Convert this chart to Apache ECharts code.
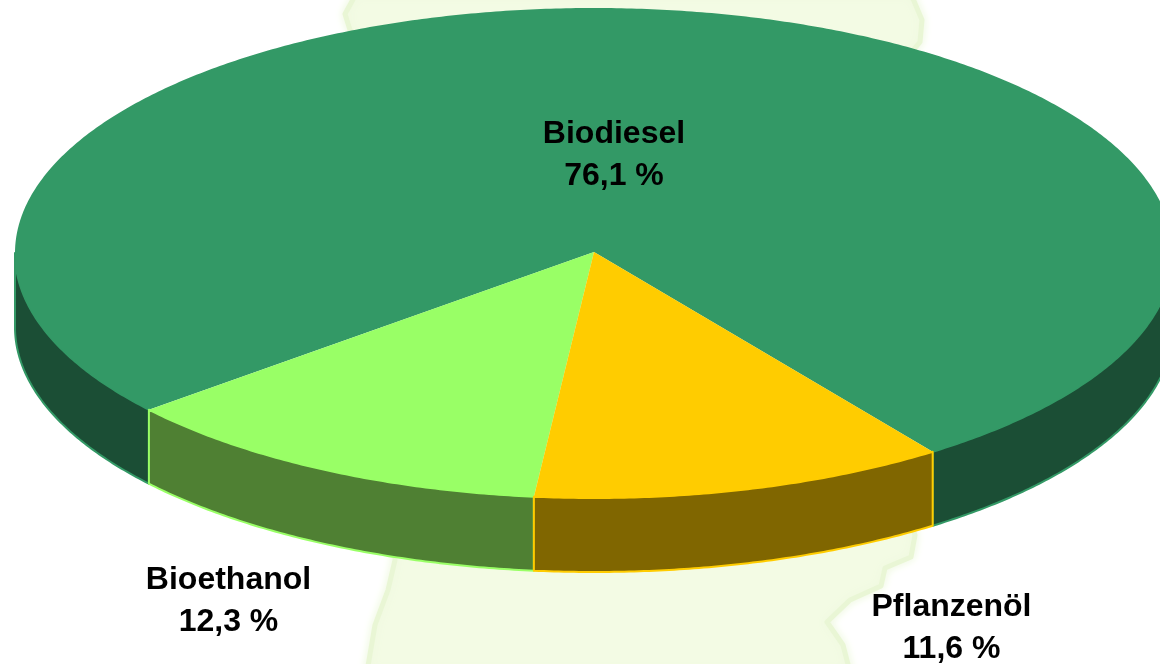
<!DOCTYPE html>
<html>
<head>
<meta charset="utf-8">
<style>html,body{margin:0;padding:0;background:#fff}#c{width:1160px;height:664px}</style>
<script src="https://cdn.jsdelivr.net/npm/echarts@6/dist/echarts.min.js"></script>
</head>
<body>
<div id="c"></div>
<script>
// Data
const categories = ['Biodiesel', 'Bioethanol', 'Pflanzenöl'];
const shares = [76.1, 12.3, 11.6];
const shareLabels = ['76,1 %', '12,3 %', '11,6 %'];

// Styles and layout
const topColors = ['#339966', '#99FF66', '#FFCC00'];
const wallColors = ['#1B4E35', '#4F8033', '#806600'];
const labelCenters = [[614, 155], [228.5, 601], [951.5, 628]];
const pie = { cx: 594, cy: 253, rx: 579, ry: 245, depth: 74, startDeg: 54.2 };
const mapOutline = [[356,-6],[345,14],[350,30],[385,70],[395,560],[388,590],[375,625],[367,672],
  [850,672],[843,645],[827,622],[850,600],[881,586],[885,568],[911,557],[915,535],[905,510],
  [905,60],[920,42],[922,20],[911,-6]];

const total = shares.reduce((a, b) => a + b, 0);
const rad = d => d * Math.PI / 180;
const pt = (t, dy) => [pie.cx + pie.rx * Math.cos(rad(t)), pie.cy + pie.ry * Math.sin(rad(t)) + (dy || 0)];
function arc(t1, t2, dy) {
  const n = Math.max(2, Math.ceil(Math.abs(t2 - t1) * 2));
  const out = [];
  for (let i = 0; i <= n; i++) out.push(pt(t1 + (t2 - t1) * i / n, dy));
  return out;
}

function renderSlice(params, api) {
  const i = params.dataIndex;
  let before = 0;
  for (let k = 0; k < i; k++) before += shares[k];
  const t1 = pie.startDeg - before / total * 360;
  const t2 = t1 - api.value(0) / total * 360;
  const children = [];
  // visible wall: only where the rim faces the viewer (0..180 degrees)
  [-360, 0].forEach(base => {
    const a = Math.max(t2, base), b = Math.min(t1, base + 180);
    if (b > a) {
      children.push({
        type: 'polygon',
        shape: { points: arc(b, a, 0).concat(arc(a, b, pie.depth)) },
        style: { fill: wallColors[i], stroke: topColors[i], lineWidth: 2, lineJoin: 'round' }
      });
    }
  });
  children.push({
    type: 'polygon',
    shape: { points: [[pie.cx, pie.cy - 1]].concat(arc(t1, t2, 0)) },
    style: { fill: topColors[i] }
  });
  return { type: 'group', children };
}

function renderLabel(params, api) {
  const i = params.dataIndex;
  return {
    type: 'text',
    x: labelCenters[i][0], y: labelCenters[i][1],
    style: {
      text: categories[i] + '\n' + shareLabels[i],
      fill: '#000', align: 'center', verticalAlign: 'middle',
      font: 'bold 32px "Liberation Sans", Arial, sans-serif', lineHeight: 42
    }
  };
}

const chart = echarts.init(document.getElementById('c'), null, { renderer: 'canvas', width: 1160, height: 664 });
const seriesData = categories.map((c, i) => ({ name: c, value: [shares[i]] }));
chart.setOption({
  animation: false,
  backgroundColor: '#ffffff',
  graphic: [{
    type: 'polygon', silent: true, z: 0,
    shape: { points: mapOutline },
    style: { fill: '#F3FBE4', stroke: '#E9F6D5', lineWidth: 5, lineJoin: 'round', shadowBlur: 10, shadowColor: '#EEF8DE' }
  }],
  series: [
    { type: 'custom', coordinateSystem: 'none', silent: true, z: 2, clip: false, renderItem: renderSlice, data: seriesData },
    { type: 'custom', coordinateSystem: 'none', silent: true, z: 3, clip: false, renderItem: renderLabel, data: seriesData }
  ]
});
</script>
</body>
</html>
